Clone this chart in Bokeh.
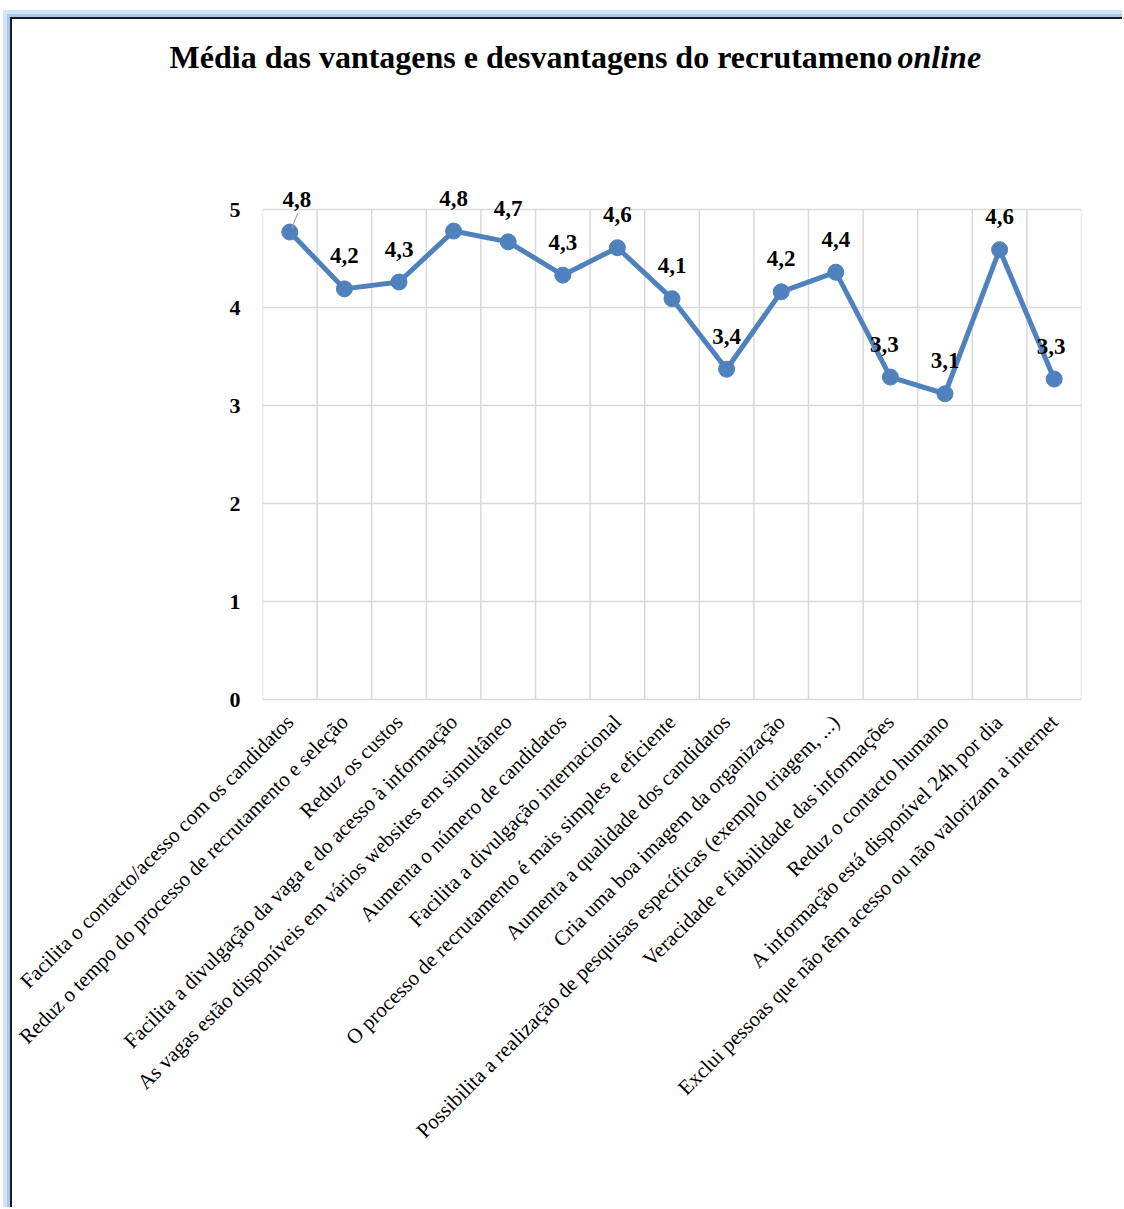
import math
from bokeh.plotting import figure
from bokeh.models import ColumnDataSource, FixedTicker, Range1d
from bokeh.embed import file_html
from bokeh.resources import INLINE
from bokeh.core.properties import value

categories = [
    "Facilita o contacto/acesso com os candidatos",
    "Reduz o tempo do processo de recrutamento e seleção",
    "Reduz os custos",
    "Facilita a divulgação da vaga e do acesso à informação",
    "As vagas estão disponíveis em vários websites em simultâneo",
    "Aumenta o número de candidatos",
    "Facilita a divulgação internacional",
    "O processo de recrutamento é mais simples e eficiente",
    "Aumenta a qualidade dos candidatos",
    "Cria uma boa imagem da organização",
    "Possibilita a realização de pesquisas específicas (exemplo triagem, ...)",
    "Veracidade e fiabilidade das informações",
    "Reduz o contacto humano",
    "A informação está disponível 24h por dia",
    "Exclui pessoas que não têm acesso ou não valorizam a internet",
]
means = [4.77, 4.19, 4.26, 4.78, 4.67, 4.33, 4.61, 4.09, 3.37, 4.16, 4.36, 3.29, 3.12, 4.59, 3.27]
y_ticks = [0, 1, 2, 3, 4, 5]
title_main = "Média das vantagens e desvantagens do recrutameno"
title_italic = "online"

# label nudges (styling only, screen px)
label_dx = [7, 0, 0, 0, 0, 0, 0, 0, 0, 0, 0, -6, 0, 0, -3]

SERIF = "Liberation Serif"
BLUE = "#4F81BD"
GRID = "#d9d9d9"

W = 1112
TITLE_H = 100
H = 1090
TOP, BOTTOM, LEFT, RIGHT = 7, 508, 250, 43
PLOT_PX = 490                      # pixels from 0 to 5
PX_PER_UNIT = PLOT_PX / max(y_ticks)
frame_h = H - TOP - BOTTOM
y_top = frame_h / PX_PER_UNIT      # small extra room above 5 for the value labels

n = len(categories)
xs = list(range(1, n + 1))

# ---- title strip ----
t = figure(width=W, height=TITLE_H, output_backend="svg", toolbar_location=None,
           x_range=Range1d(0, W), y_range=Range1d(TITLE_H, 0),
           x_axis_location=None, y_axis_location=None,
           min_border_left=0, min_border_right=0, min_border_top=0, min_border_bottom=0)
t.grid.visible = False
t.outline_line_color = None
t.background_fill_color = "white"
t.border_fill_color = "white"
t.text(x=[880], y=[37], text=[title_main],
       text_font=value(SERIF), text_font_size="32px", text_font_style="bold",
       text_align="right", text_baseline="alphabetic", text_color="black")
t.text(x=[885], y=[37], text=[title_italic],
       text_font=value(SERIF), text_font_size="32px", text_font_style="bold italic",
       text_align="left", text_baseline="alphabetic", text_color="black")

# ---- main chart ----
p = figure(width=W, height=H, output_backend="svg", toolbar_location=None,
           x_range=Range1d(0.5, n + 0.5), y_range=Range1d(0, y_top),
           min_border_left=LEFT, min_border_right=RIGHT, min_border_top=TOP,
           min_border_bottom=BOTTOM)
p.outline_line_color = None
p.background_fill_color = "white"
p.border_fill_color = "white"

# grids
p.xgrid.visible = False
bounds = [i + 0.5 for i in range(0, n + 1)]
p.segment(x0=bounds, y0=[min(y_ticks)] * len(bounds), x1=bounds,
          y1=[max(y_ticks)] * len(bounds), line_color=GRID, line_width=1.5)
p.ygrid.ticker = FixedTicker(ticks=y_ticks)
p.ygrid.grid_line_color = GRID
p.ygrid.grid_line_width = 1.5

# axes
p.xaxis.ticker = FixedTicker(ticks=xs)
p.xaxis.major_label_overrides = {i: c for i, c in zip(xs, categories)}
p.xaxis.major_label_orientation = math.pi / 4
p.xaxis.major_label_text_font = SERIF
p.xaxis.major_label_text_font_size = "21px"
p.xaxis.major_label_text_color = "black"
p.xaxis.major_label_standoff = 13
p.xaxis.axis_line_color = GRID
p.xaxis.axis_line_width = 1.5
p.xaxis.major_tick_line_color = None
p.xaxis.minor_tick_line_color = None

p.yaxis.ticker = FixedTicker(ticks=y_ticks)
p.yaxis.major_label_text_font = SERIF
p.yaxis.major_label_text_font_size = "22px"
p.yaxis.major_label_text_font_style = "bold"
p.yaxis.major_label_text_color = "black"
p.yaxis.major_label_standoff = 16
p.yaxis.axis_line_color = None
p.yaxis.major_tick_line_color = None
p.yaxis.minor_tick_line_color = None

# series
labels = [f"{v:.1f}".replace(".", ",") for v in means]
src = ColumnDataSource(dict(x=xs, y=means, lbl=labels, dx=label_dx))
p.line("x", "y", source=src, line_width=5, color=BLUE)
p.scatter("x", "y", source=src, size=16, color=BLUE)

# leader line for the first label
px_per_x = (W - LEFT - RIGHT) / n
p.segment(x0=[xs[0] + 2 / px_per_x], y0=[means[0] + 4 / PX_PER_UNIT],
          x1=[xs[0] + 8 / px_per_x], y1=[means[0] + 19 / PX_PER_UNIT],
          line_color="#a6a6a6", line_width=1.2)

p.text("x", "y", text="lbl", source=src, x_offset="dx", y_offset=-33,
       text_font=value(SERIF), text_font_size="23px", text_font_style="bold",
       text_align="center", text_baseline="middle", text_color="black")

t.styles = {"margin-left": "10px", "margin-top": "17px",
            "border-left": "2px solid #1a1a1a", "border-top": "2px solid #1a1a1a",
            "box-shadow": "-3px 0 0 0 #a9c8f0, -7px 0 0 0 #d3e3f8, "
                          "0 -3px 0 0 #a9c8f0, 0 -7px 0 0 #d3e3f8, "
                          "-3px -3px 0 0 #a9c8f0, -7px -7px 0 0 #d3e3f8"}
p.styles = {"margin-left": "10px",
            "border-left": "2px solid #1a1a1a",
            "box-shadow": "-3px 0 0 0 #a9c8f0, -7px 0 0 0 #d3e3f8"}

open("out.html", "w").write(file_html([t, p], INLINE))
